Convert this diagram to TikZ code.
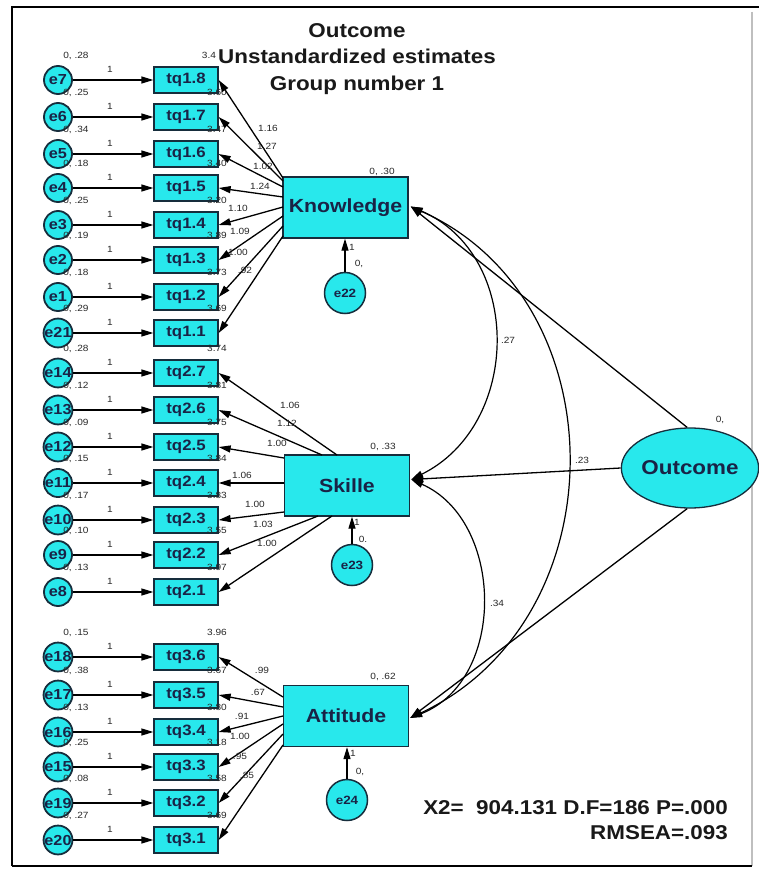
\documentclass[tikz,border=0pt]{standalone}
\usepackage{fontspec}
\setmainfont{Liberation Sans}[FakeStretch=1.12]
\usetikzlibrary{arrows.meta,shapes.geometric,calc}
\definecolor{cyanf}{RGB}{40,232,236}
\definecolor{bdr}{RGB}{22,45,60}
\definecolor{navy}{RGB}{25,35,70}
\definecolor{lbl}{RGB}{40,40,40}
\begin{document}
\begin{tikzpicture}[x=1pt,y=-1pt,
  obs/.style={draw=bdr, fill=cyanf, line width=1.3pt, minimum width=64pt, minimum height=26pt, inner sep=0pt, font=\fontsize{15}{15}\selectfont\bfseries, text=navy},
  err/.style={circle, draw=bdr, fill=cyanf, line width=1.8pt, minimum size=28pt, inner sep=0pt, font=\fontsize{14.5}{14.5}\selectfont\bfseries, text=navy},
  lat/.style={draw=bdr, fill=cyanf, line width=1.3pt, minimum width=125pt, minimum height=61pt, inner sep=0pt, font=\fontsize{19}{19}\selectfont\bfseries, text=navy},
  lerr/.style={circle, draw=bdr, fill=cyanf, line width=1.5pt, minimum size=41pt, inner sep=0pt, font=\fontsize{12}{12}\selectfont\bfseries, text=navy},
  arr/.style={-{Triangle[length=12pt,width=7pt]}, line width=1.3pt, black},
  cov/.style={{Triangle[length=12pt,width=7pt]}-{Triangle[length=12pt,width=7pt]}, line width=1.2pt, black},
  sm/.style={font=\fontsize{9}{9}\selectfont, text=lbl, inner sep=0pt},
  big/.style={font=\fontsize{20}{26.5}\selectfont\bfseries, text=black!90, inner sep=0pt}
]
\useasboundingbox (0,0) rectangle (759,869);
\fill[white] (0,0) rectangle (759,869);
% frame
\draw[line width=1.2pt, black!25] (752,12) -- (752,866);
\draw[line width=2pt, black] (12,866) -- (12,7) -- (759,7);
\draw[line width=1.5pt, black] (12,866) -- (752,866);

% title
\node[big, align=center] (title) at (357,59) {Outcome\\Unstandardized estimates\\Group number 1};

% observed variables with their errors
\foreach \n/\e/\t/\y/\v/\c/\cx in {
 t18/e7/tq1.8/80/.28/3.4/209, t17/e6/tq1.7/117/.25/3.60/217, t16/e5/tq1.6/154/.34/3.47/217, t15/e4/tq1.5/188/.18/3.40/217,
 t14/e3/tq1.4/225/.25/3.20/217, t13/e2/tq1.3/260/.19/3.89/217, t12/e1/tq1.2/297/.18/3.73/217, t11/e21/tq1.1/333/.29/3.69/217,
 t27/e14/tq2.7/373/.28/3.74/217, t26/e13/tq2.6/410/.12/3.81/217, t25/e12/tq2.5/447/.09/3.75/217, t24/e11/tq2.4/483/.15/3.84/217,
 t23/e10/tq2.3/520/.17/3.83/217, t22/e9/tq2.2/555/.10/3.55/217, t21/e8/tq2.1/592/.13/3.97/217,
 t36/e18/tq3.6/657/.15/3.96/217, t35/e17/tq3.5/695/.38/3.67/217, t34/e16/tq3.4/732/.13/3.80/217, t33/e15/tq3.3/767/.25/3.18/217,
 t32/e19/tq3.2/803/.08/3.58/217, t31/e20/tq3.1/840/.27/3.69/217}
{
 \node[obs] (\n) at (186,\y) {\t};
 \node[err] (e\n) at (58,\y) {\e};
 \draw[arr] (e\n) -- (\n);
 \node[sm] (one\n) at (110,\y-11) {1};
 \node[sm] (var\n) at (76,\y-24) {0, \v};
 \node[sm] (int\n) at (\cx,\y-25) {\c};
}

% latent variables
\node[lat] (K) at (345.5,207.5) {Knowledge};
\node[lat] (S) at (347,485.5) {Skille};
\node[lat] (A) at (346,716) {Attitude};
\node[ellipse, draw=bdr, fill=cyanf, line width=1.3pt, minimum width=134pt, minimum height=80pt, inner sep=0pt,
      font=\fontsize{20}{20}\selectfont\bfseries, text=navy] (O) at (690,468) {Outcome};

\node[sm] (vK) at (382,172) {0, .30};
\node[sm] (vS) at (383,447) {0, .33};
\node[sm] (vA) at (383,677) {0, .62};
\node[sm] (vO) at (720,420) {0,};

% disturbances
\node[lerr] (e22) at (345,293) {e22};
\node[lerr] (e23) at (352,565) {e23};
\node[lerr] (e24) at (347,800) {e24};
\draw[arr] (e22) -- (e22 |- K.south);
\draw[arr] (e23) -- (e23 |- S.south);
\draw[arr] (e24) -- (e24 |- A.south);
\node[sm] (d1a) at (352,247) {1};
\node[sm] (d1b) at (359,264) {0,};
\node[sm] (d2a) at (357,522) {1};
\node[sm] (d2b) at (363,539) {0.};
\node[sm] (d3a) at (353,753) {1};
\node[sm] (d3b) at (360,772) {0,};

% loadings Knowledge
\foreach \n/\dx/\dy/\lab/\lx/\ly in {
 t18/-62.5/-29.5/1.16/268/128, t17/-62.5/-26.5/1.27/267/146, t16/-62.5/-20.5/1.02/263/166, t15/-62.5/-10.5/1.24/260/186,
 t14/-62.5/-0.5/1.10/238/208, t13/-62.5/8.5/1.09/240/231, t12/-62.5/18.5/1.00/238/252, t11/-62.5/28.5/.92/245/270}
{
 \coordinate (k\n) at ($(K)+(\dx,\dy)$);
 \draw[arr] (k\n) -- (\n.east);
 \node[sm] (l\n) at (\lx,\ly) {\lab};
}
% loadings Skille
\foreach \n/\dx/\dy/\lab/\lx/\ly in {
 t27/-10/-30.5/1.06/290/405, t26/-25/-30.5/1.12/287/423, t25/-63/-27.5/1.00/277/443, t24/-63/-2.5/1.06/242/475,
 t23/-63/26.5/1.00/255/504, t22/-29/30.5/1.03/263/524, t21/-15/30.5/1.00/267/543}
{
 \coordinate (s\n) at ($(S)+(\dx,\dy)$);
 \draw[arr] (s\n) -- (\n.east);
 \node[sm] (l\n) at (\lx,\ly) {\lab};
}
% loadings Attitude
\foreach \n/\dx/\dy/\lab/\lx/\ly in {
 t36/-63/-19/.99/262/670, t35/-63/-9/.67/258/692, t34/-63/0/.91/242/716, t33/-63/8/1.00/240/736,
 t32/-63/18/.95/240/756, t31/-63/29/.85/247/775}
{
 \coordinate (a\n) at ($(A)+(\dx,\dy)$);
 \draw[arr] (a\n) -- (\n.east);
 \node[sm] (l\n) at (\lx,\ly) {\lab};
}

% structural paths
\coordinate (Kr) at ($(K.east)+(2,-1)$);
\coordinate (Sr) at ($(S.east)+(1,-6)$);
\coordinate (Ar) at ($(A.east)+(1,2)$);
\draw[arr] (O.94) -- (Kr);
\draw[arr] (O.west) -- (Sr);
\draw[arr] (O.266) -- (Ar);

% covariances
\draw[cov] (Kr) .. controls +(112,48) and +(111,-55) .. (Sr);
\draw[cov] (Kr) .. controls +(209,93) and +(210,-99) .. (Ar);
\draw[cov] (Sr) .. controls +(93,41) and +(97,-38) .. (Ar);
\node[sm] (c1) at (508,340) {.27};
\node[sm] (c2) at (582,460) {.23};
\node[sm] (c3) at (497,603) {.34};

% fit
\node[big, anchor=east] (fit1) at (728,808) {X2=\ \ 904.131 D.F=186 P=.000};
\node[big, anchor=east] (fit2) at (728,833) {RMSEA=.093};
\end{tikzpicture}
\end{document}
